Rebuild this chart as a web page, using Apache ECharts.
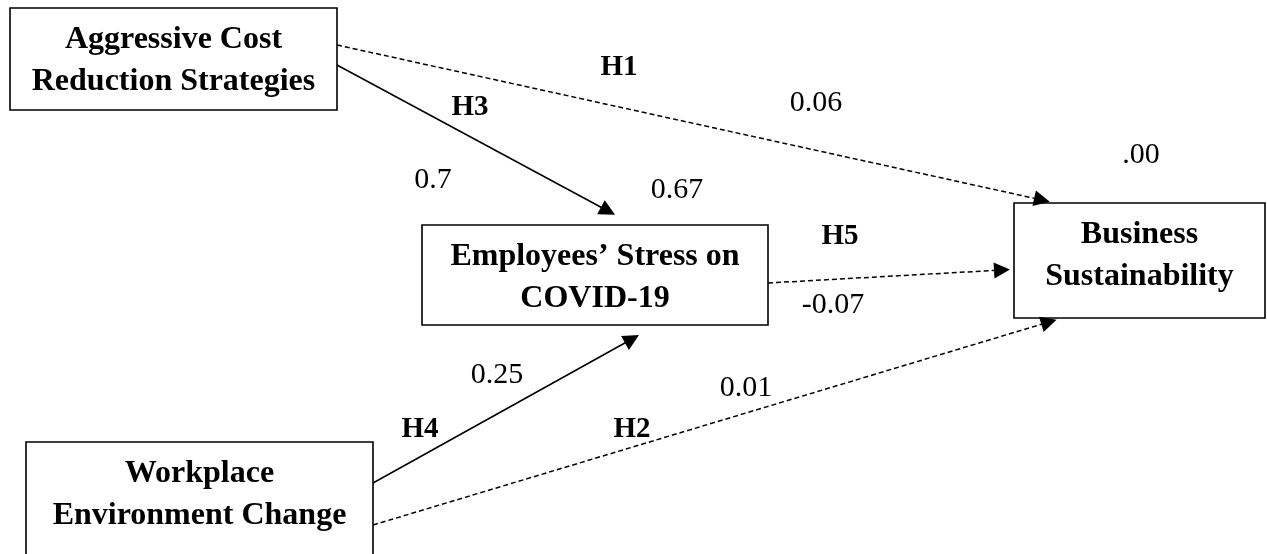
<!DOCTYPE html>
<html>
<head>
  <meta charset="utf-8">
  <script src="https://cdn.jsdelivr.net/npm/echarts@6/dist/echarts.min.js"></script>
</head>
<body style="margin: 0; background: #fff">
  <div id="main" style="width: 1267px; height: 554px;"></div>
  <script>
    // boxes: label, left, top, right, bottom (diagram pixel units)
    const boxNames = ['Aggressive Cost\nReduction Strategies', 'Employees’ Stress on\nCOVID-19', 'Workplace\nEnvironment Change', 'Business\nSustainability'];
    const boxLeft = [10, 422, 26, 1014];
    const boxTop = [8, 225, 442, 203];
    const boxRight = [337, 768, 373, 1265];
    const boxBottom = [110, 325, 570, 318];

    // paths
    const pathNames = ['H1', 'H3', 'H5', 'H4', 'H2'];
    const pathFrom = [[337, 45], [337, 65], [768, 283], [373, 483], [373, 525]];
    const pathTo = [[1042, 200], [608, 211], [1002, 270], [632, 339], [1049, 322]];
    const pathDashed = [true, false, true, false, true];
    const pathCoef = ['0.06', '0.7', '-0.07', '0.25', '0.01'];
    const hLabelPos = [[619, 68], [470, 108], [840, 237], [420, 430], [632, 430]];
    const coefPos = [[816, 103], [433, 180], [833, 305], [497, 375], [746, 388]];

    // explained variance beside endogenous boxes
    const r2Values = ['0.67', '.00'];
    const r2Pos = [[677, 190], [1141, 155]];

    const chart = echarts.init(document.getElementById('main'));
    const font = '"Liberation Serif", "Times New Roman", serif';

    const boxData = boxNames.map((n, i) => [boxLeft[i], boxTop[i], boxRight[i], boxBottom[i], n]);

    const lineData = pathNames.map((n, i) => ({
      coords: [pathFrom[i], pathTo[i]],
      lineStyle: { type: pathDashed[i] ? [5, 3] : 'solid' }
    }));

    const hData = pathNames.map((n, i) => ({ value: hLabelPos[i], label: { formatter: n } }));
    const coefData = pathCoef.map((c, i) => ({ value: coefPos[i], label: { formatter: c } }))
      .concat(r2Values.map((c, i) => ({ value: r2Pos[i], label: { formatter: c } })));

    const option = {
      backgroundColor: '#fff',
      animation: false,
      grid: { left: 0, right: 0, top: 0, bottom: 0 },
      xAxis: { type: 'value', min: 0, max: 1267, show: false },
      yAxis: { type: 'value', min: 0, max: 554, inverse: true, show: false },
      series: [
        {
          type: 'custom',
          data: boxData,
          renderItem: function (params, api) {
            const p0 = api.coord([api.value(0), api.value(1)]);
            const p1 = api.coord([api.value(2), api.value(3)]);
            const cx = (p0[0] + p1[0]) / 2;
            return {
              type: 'group',
              children: [
                {
                  type: 'rect',
                  shape: { x: p0[0], y: p0[1], width: p1[0] - p0[0], height: p1[1] - p0[1] },
                  style: { fill: '#fff', stroke: '#000', lineWidth: 1.6 }
                },
                {
                  type: 'text',
                  x: cx,
                  y: p0[1] + 53,
                  style: {
                    text: api.value(4),
                    fill: '#000',
                    font: 'bold 32px ' + font,
                    lineHeight: 42,
                    align: 'center',
                    verticalAlign: 'middle'
                  }
                }
              ]
            };
          }
        },
        {
          type: 'lines',
          coordinateSystem: 'cartesian2d',
          data: lineData,
          symbol: ['none', 'triangle'],
          symbolSize: [16, 16],
          lineStyle: { color: '#000', width: 1.5, opacity: 1, curveness: 0 },
          z: 3
        },
        {
          type: 'scatter',
          data: hData,
          symbolSize: 0,
          itemStyle: { opacity: 1, color: '#000' },
          label: {
            show: true,
            position: 'inside',
            color: '#000',
            opacity: 1,
            fontFamily: font,
            fontWeight: 'bold',
            fontSize: 29
          }
        },
        {
          type: 'scatter',
          data: coefData,
          symbolSize: 0,
          itemStyle: { opacity: 1, color: '#000' },
          label: {
            show: true,
            position: 'inside',
            color: '#000',
            opacity: 1,
            fontFamily: font,
            fontSize: 30
          }
        }
      ]
    };
    chart.setOption(option);
  </script>
</body>
</html>
